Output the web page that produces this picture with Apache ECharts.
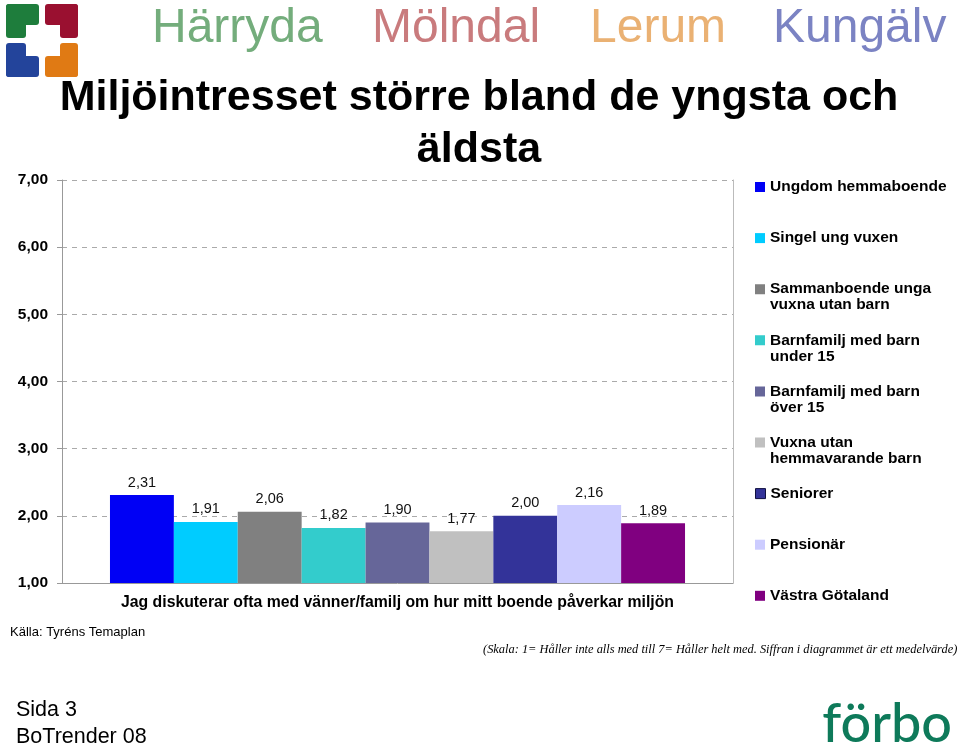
<!DOCTYPE html>
<html>
<head>
<meta charset="utf-8">
<script src="https://cdn.jsdelivr.net/npm/echarts@6/dist/echarts.min.js"></script>
<style>
  html, body { margin: 0; padding: 0; background: #fff; }
  #chart { width: 959px; height: 749px; }
</style>
</head>
<body>
<div id="chart"></div>
<script>
// ---- data ----
const categories = ['Jag diskuterar ofta med vänner/familj om hur mitt boende påverkar miljön'];
const seriesNames = [
  'Ungdom hemmaboende',
  'Singel ung vuxen',
  'Sammanboende unga\nvuxna utan barn',
  'Barnfamilj med barn\nunder 15',
  'Barnfamilj med barn\növer 15',
  'Vuxna utan\nhemmavarande barn',
  'Seniorer',
  'Pensionär',
  'Västra Götaland'
];
const seriesValues = [2.31, 1.91, 2.06, 1.82, 1.90, 1.77, 2.00, 2.16, 1.89];
const yTickLabels = ['1,00', '2,00', '3,00', '4,00', '5,00', '6,00', '7,00'];
const colors = ['#0000f5', '#00ccff', '#808080', '#33cccc', '#666699', '#c0c0c0', '#333399', '#ccccff', '#800080'];

const FONT = 'Arial, "Liberation Sans", sans-serif';

const chart = echarts.init(document.getElementById('chart'), null, { renderer: 'canvas' });

const series = seriesNames.map((name, i) => ({
  name: name,
  type: 'bar',
  data: [seriesValues[i]],
  barGap: '0%',
  barCategoryGap: '14.3%',
  itemStyle: { color: colors[i] },
  label: {
    show: true,
    position: 'top',
    distance: 5,
    color: '#111',
    fontFamily: FONT,
    fontSize: 14.5,
    formatter: p => p.value.toFixed(2).replace('.', ',')
  },
  emphasis: { disabled: true }
}));

// legend: one component per item so each first line sits on its own row
const legends = seriesNames.map((name, i) => {
  const twoLine = name.indexOf('\n') >= 0;
  const firstLineCenter = 187 + i * 51.1;
  return {
    orient: 'vertical',
    left: 755,
    top: firstLineCenter - 8,
    padding: 0,
    selectedMode: false,
    itemWidth: 10,
    itemHeight: twoLine ? 26 : 10,
    data: [{
      name: name,
      icon: twoLine ? 'path://M0,0h10v10h-10z M0,25.99h0.01v0.01h-0.01z' : 'rect'
    }],
    itemStyle: i === 6 ? { borderColor: '#101040', borderWidth: 1 } : {},
    textStyle: {
      fontFamily: FONT,
      fontWeight: 'bold',
      fontSize: 15.5,
      lineHeight: 16,
      color: '#000'
    }
  };
});

function txt(x, y, text, font, fill, align, valign) {
  return {
    type: 'text', x: x, y: y, silent: true,
    style: { text: text, font: font, fill: fill,
      align: align || 'left', verticalAlign: valign || 'middle',
      textAlign: align || 'left', textVerticalAlign: valign || 'middle' }
  };
}
function rrect(x, y, w, h, c) {
  return { type: 'rect', silent: true, shape: { x: x, y: y, width: w, height: h, r: 3 }, style: { fill: c } };
}

const graphics = [
  // logo
  rrect(6, 4, 33, 21, '#1e7d3c'), rrect(6, 4, 20, 34, '#1e7d3c'),
  rrect(45, 4, 33, 21, '#9a1030'), rrect(60, 4, 18, 34, '#9a1030'),
  rrect(6, 56, 33, 21, '#23449b'), rrect(6, 43, 20, 34, '#23449b'),
  rrect(45, 56, 33, 21, '#e07a14'), rrect(60, 43, 18, 34, '#e07a14'),
  // municipality names
  txt(152, 29, 'Härryda', '48px ' + FONT, '#74ad7c'),
  txt(372, 29, 'Mölndal', '48px ' + FONT, '#c97b7d'),
  txt(590, 29, 'Lerum', '48px ' + FONT, '#eab173'),
  txt(773, 29, 'Kungälv', '48px ' + FONT, '#7b83c3'),
  // title
  txt(479, 98, 'Miljöintresset större bland de yngsta och', 'bold 43px ' + FONT, '#000', 'center'),
  txt(479, 150, 'äldsta', 'bold 43px ' + FONT, '#000', 'center'),
  // notes
  txt(10, 632, 'Källa: Tyréns Temaplan', '13px ' + FONT, '#000'),
  txt(483, 650, '(Skala: 1= Håller inte alls med till 7= Håller helt med. Siffran i diagrammet är ett medelvärde)',
      'italic 12.4px "Liberation Serif", "Times New Roman", serif', '#000'),
  txt(16, 710, 'Sida 3', '21.5px ' + FONT, '#000'),
  txt(16, 737, 'BoTrender 08', '21.5px ' + FONT, '#000'),
  txt(952, 725, 'förbo', '500 54px Lato, "Open Sans", sans-serif', '#0e7a5a', 'right')
];

const option = {
  backgroundColor: '#fff',
  animation: false,
  color: colors,
  legend: legends,
  grid: { left: 62, right: 226, top: 180, bottom: 166, containLabel: false },
  xAxis: {
    type: 'category',
    data: categories,
    axisLine: { show: true, lineStyle: { color: '#999', width: 1 } },
    axisTick: { show: false },
    axisLabel: {
      margin: 12,
      fontFamily: FONT, fontWeight: 'bold', fontSize: 15.8, color: '#000'
    }
  },
  yAxis: [{
    type: 'value',
    min: 1, max: 7, interval: 1,
    axisLine: { show: true, lineStyle: { color: '#999', width: 1 } },
    axisTick: { show: true, length: 5, lineStyle: { color: '#999' } },
    axisLabel: {
      margin: 14,
      fontFamily: FONT, fontWeight: 'bold', fontSize: 15.5, color: '#000',
      formatter: v => yTickLabels[Math.round(v) - 1]
    },
    splitLine: { show: true, lineStyle: { color: '#aaa', type: [5, 5], width: 1 } }
  }, {
    type: 'value',
    position: 'right',
    min: 1, max: 7, interval: 1,
    axisLine: { show: true, lineStyle: { color: '#bbb', width: 1 } },
    axisTick: { show: false },
    axisLabel: { show: false },
    splitLine: { show: false }
  }],
  series: series,
  graphic: graphics
};

chart.setOption(option);
</script>
</body>
</html>
